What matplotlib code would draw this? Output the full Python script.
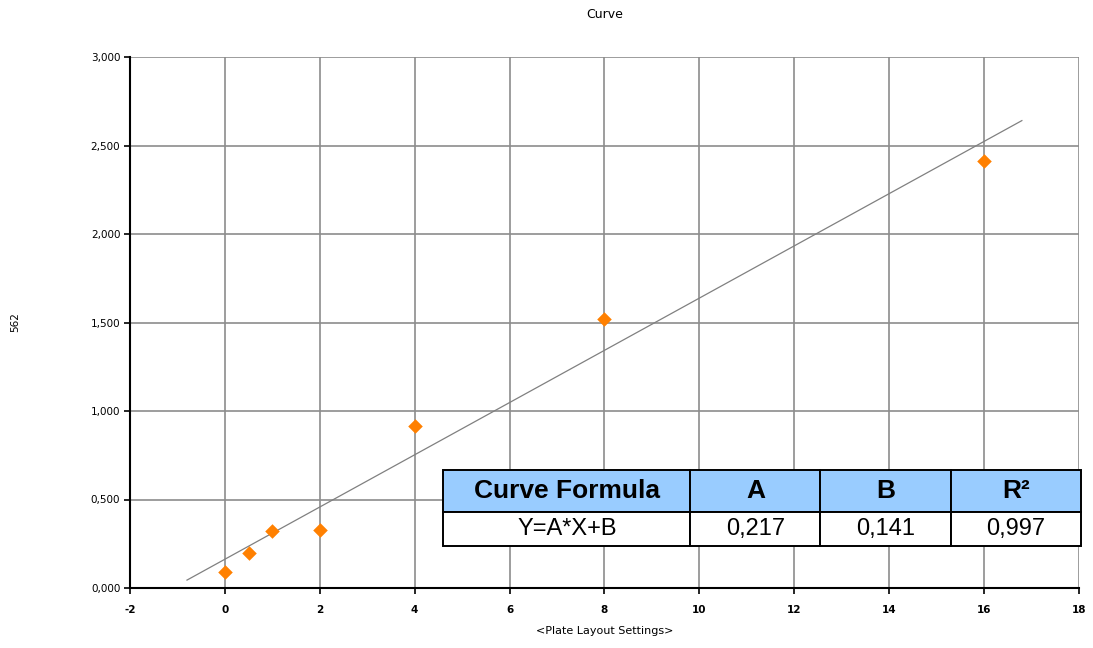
import numpy as np
import matplotlib
matplotlib.use("Agg")
import matplotlib.pyplot as plt
from matplotlib.ticker import MultipleLocator, FuncFormatter

plt.rcParams["font.family"] = ["DejaVu Sans"]
plt.rcParams["axes.unicode_minus"] = False

# standards: concentration vs signal
conc = [0, 0.5, 1, 2, 4, 8, 16]
signal = [0.09, 0.20, 0.32, 0.33, 0.915, 1.52, 2.41]

table_header = ["Curve Formula", "A", "B", "R\u00b2"]
table_values = ["Y=A*X+B", "0,217", "0,141", "0,997"]

fit_x = [-0.8, 16.8]

fig = plt.figure(figsize=(10.93, 6.48), dpi=100)
ax = fig.add_axes([0.119, 0.0926, 0.868, 0.8194])

slope, intercept = np.polyfit(conc, signal, 1)
fx = np.array(fit_x)
ax.plot(fx, slope * fx + intercept, color="#808080", linewidth=0.9, zorder=3)
ax.scatter(conc, signal, marker="D", s=55, color="#FF8000", zorder=4, linewidths=0)

ax.set_xlim(-2, 18)
ax.set_ylim(0, 3)
ax.xaxis.set_major_locator(MultipleLocator(2))
ax.yaxis.set_major_locator(MultipleLocator(0.5))
ax.yaxis.set_major_formatter(FuncFormatter(lambda v, p: f"{v:.3f}".replace(".", ",")))
ax.grid(color="#8c8c8c", linewidth=1.2)
ax.set_axisbelow(True)
for side in ("top", "right"):
    ax.spines[side].set_visible(False)
for side in ("left", "bottom"):
    ax.spines[side].set_linewidth(1.5)
ax.tick_params(labelsize=7.5, length=4, width=1.2, colors="black", pad=3)
ax.tick_params(axis="x", pad=8)
for lbl in ax.get_xticklabels():
    lbl.set_fontweight("bold")

ax.set_title("Curve", fontsize=9, pad=28)
ax.set_xlabel("<Plate Layout Settings>", fontsize=8, labelpad=8)
ax.set_ylabel("562", fontsize=7.5)
ax.yaxis.set_label_coords(-0.116, 0.5)

tbl = ax.table(cellText=[table_header, table_values],
               colWidths=[247, 130, 130, 130],
               cellLoc="center",
               bbox=[0.330, 0.079, 0.672, 0.143])
tbl.auto_set_font_size(False)
for (r, c), cell in tbl.get_celld().items():
    cell.set_linewidth(1.4)
    cell.set_edgecolor("black")
    txt = cell.get_text()
    txt.set_fontfamily(["Liberation Sans", "DejaVu Sans"])
    if r == 0:
        cell.set_height(42)
        cell.set_facecolor("#99CCFF")
        txt.set_fontweight("bold")
        txt.set_fontsize(19)
    else:
        cell.set_height(34)
        cell.set_facecolor("white")
        txt.set_fontsize(17)
tbl.set_zorder(5)
tbl.set_clip_on(False)

fig.savefig("out.png", dpi=100)
